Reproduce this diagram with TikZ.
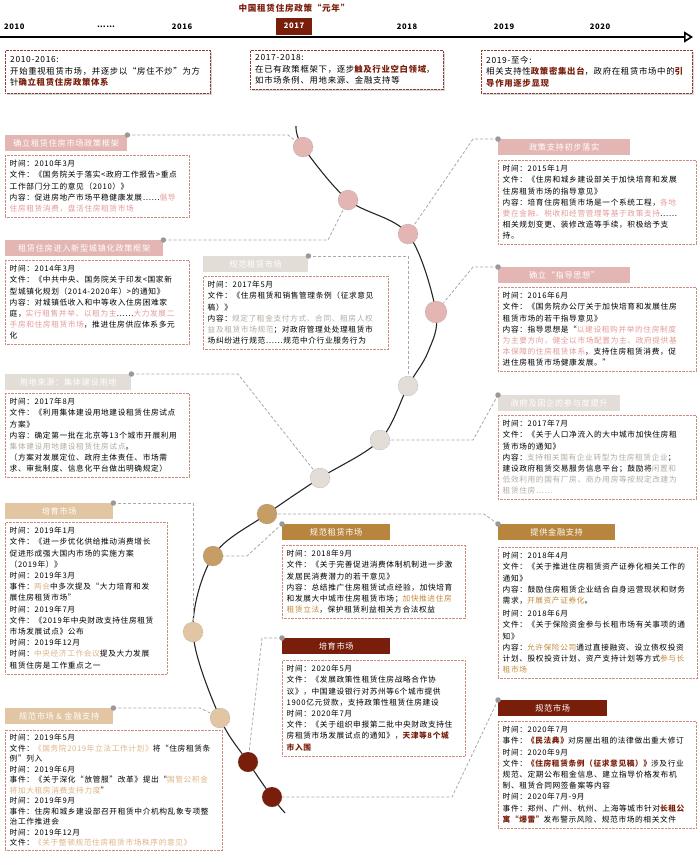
\documentclass[tikz,border=0pt]{standalone}
\usepackage{fontspec}
\setmainfont{Noto Sans CJK SC}[LetterSpace=8]
\usepackage{tikz}
\usetikzlibrary{arrows.meta,positioning,shadows}

\definecolor{wine}{HTML}{7A1E0C}
\definecolor{rosefill}{HTML}{E4B6B3}
\definecolor{rosetext}{HTML}{E29C99}
\definecolor{ashfill}{HTML}{E3DDD7}
\definecolor{ashtext}{HTML}{B3ABA3}
\definecolor{goldfill}{HTML}{B8853F}
\definecolor{goldtext}{HTML}{C38A3C}
\definecolor{sandfill}{HTML}{E2C6A3}
\definecolor{sandtext}{HTML}{DDB386}
\definecolor{dotframe}{HTML}{CE8C80}
\definecolor{linkgrey}{HTML}{A8A8A8}

\newcommand{\hlrose}[1]{\textcolor{rosetext}{#1}}
\newcommand{\hlash}[1]{\textcolor{ashtext}{#1}}
\newcommand{\hlgold}[1]{\textcolor{goldtext}{#1}}
\newcommand{\hlsand}[1]{\textcolor{sandtext}{#1}}
\newcommand{\hlwine}[1]{\textcolor{wine}{\bfseries #1}}

\begin{document}
\begin{tikzpicture}[x=1pt,y=-1pt,
  ttl/.style={text=wine,font=\fontsize{8.6}{10}\selectfont\bfseries},
  yr/.style={font=\fontsize{7.6}{9}\selectfont\bfseries,inner sep=1pt},
  yrbox/.style={fill=wine,text=white,minimum width=36pt,minimum height=17pt,
                inner sep=0pt,font=\fontsize{7.6}{9}\selectfont\bfseries},
  axis/.style={line width=1.6pt,-{Triangle[open,length=9pt,width=11pt]}},
  topbox/.style={rectangle,anchor=north west,draw=wine!85,densely dotted,fill=white,
                 drop shadow={opacity=0.3,shadow xshift=2pt,shadow yshift=-2pt},
                 align=left,inner xsep=5pt,inner ysep=4pt,
                 font=\fontsize{8.4}{11.4}\selectfont},
  hdr/.style={rectangle,anchor=north west,minimum height=16pt,inner sep=0pt,
              text=white,font=\fontsize{8.2}{10}\selectfont},
  body/.style={rectangle,anchor=north west,draw=dotframe,densely dotted,align=left,
               inner xsep=4.5pt,inner ysep=5pt,font=\fontsize{7.7}{11.2}\selectfont},
  knot/.style={circle,minimum size=20pt,inner sep=0pt,draw=black!45,densely dotted},
  pin/.style={circle,fill=black!40,minimum size=5.5pt,inner sep=0pt},
  link/.style={draw=linkgrey,line width=0.8pt,dash pattern=on 3pt off 2pt},
  curve/.style={line width=1.1pt,black!85}
]
  \useasboundingbox (0,0) rectangle (700,865);

  % time axis
  \node[ttl] (title) at (294,8) {中国租赁住房政策“元年”};
  \coordinate (axL) at (0,37);
  \coordinate (axR) at (693,37);
  \draw[axis] (axL) -- (axR);
  \node[yr,anchor=west] (y2010) at (3,27) {2010};
  \node[yr] (ygap) at (106,27) {……};
  \node[yr] (y2016) at (182,27) {2016};
  \node[yrbox] (y2017) at (294,26) {2017};
  \node[yr] (y2018) at (407,27) {2018};
  \node[yr] (y2019) at (504,27) {2019};
  \node[yr] (y2020) at (600,27) {2020};

  % three stages
  \node[topbox,text width=195pt,minimum height=43pt] (stage1) at (5,50)
    {2010-2016:\\开始重视租赁市场，并逐步以“房住不炒”为方\\针\hlwine{确立租赁住房政策体系}};
  \node[topbox,text width=183pt,minimum height=39pt] (stage2) at (250,50)
    {2017-2018:\\在已有政策框架下，逐步\hlwine{触及行业空白领域}，\\如市场条例、用地来源、金融支持等};
  \node[topbox,text width=201pt,minimum height=43pt] (stage3) at (481,50)
    {2019-至今:\\相关支持性\hlwine{政策密集出台}，政府在租赁市场中的\hlwine{引}\\\hlwine{导作用逐步显现}};

  % S-shaped curve
  \coordinate (q0) at (296,126);
  \coordinate (c1) at (303,147);
  \coordinate (c2) at (348,200);
  \coordinate (c3) at (408,234);
  \coordinate (c4) at (436,312);
  \coordinate (qa) at (428,352);
  \coordinate (g1) at (408,386);
  \coordinate (g2) at (380,440);
  \coordinate (g3) at (320,478);
  \coordinate (o1) at (267,514);
  \coordinate (o2) at (213,556);
  \coordinate (t1) at (193,632);
  \coordinate (t2) at (220,718);
  \coordinate (m1) at (248,762);
  \coordinate (m2) at (272,797);
  \coordinate (qz) at (285,813);
  \draw[curve] plot[smooth,tension=0.55] coordinates
    {(q0) (c1) (c2) (c3) (c4) (qa) (g1) (g2) (g3) (o1) (o2) (t1) (t2) (m1) (m2) (qz)};

  \node[knot,fill=rosefill] (k1) at (c1) {};
  \node[knot,fill=rosefill] (k2) at (c2) {};
  \node[knot,fill=rosefill] (k3) at (c3) {};
  \node[knot,fill=rosefill,minimum size=22pt] (k4) at (c4) {};
  \node[knot,fill=ashfill] (k5) at (g1) {};
  \node[knot,fill=ashfill] (k6) at (g2) {};
  \node[knot,fill=ashfill] (k7) at (g3) {};
  \node[knot,fill=goldfill!80] (k8) at (o1) {};
  \node[knot,fill=goldfill!80] (k9) at (o2) {};
  \node[knot,fill=sandfill] (k10) at (t1) {};
  \node[knot,fill=sandfill] (k11) at (t2) {};
  \node[knot,fill=wine] (k12) at (m1) {};
  \node[knot,fill=wine] (k13) at (m2) {};

  % 2010
  \node[hdr,fill=rosefill,minimum width=122pt] (h1) at (5,135) {确立租赁住房市场政策框架};
  \node[body,text width=175pt] (b1) at (5,155)
    {时间：2010年3月\\文件：《国务院关于落实<政府工作报告>重点\\工作部门分工的意见（2010）》\\
     内容：促进房地产市场平稳健康发展……\hlrose{倡导}\\\hlrose{住房租赁消费，盘活住房租赁市场}};
  % 2014
  \node[hdr,fill=rosefill,minimum width=158pt] (h2) at (5,240) {租赁住房进入新型城镇化政策框架};
  \node[body,text width=175pt] (b2) at (5,260)
    {时间：2014年3月\\文件：《中共中央、国务院关于印发<国家新\\型城镇化规划（2014-2020年）>的通知》\\
     内容：对城镇低收入和中等收入住房困难家\\庭，\hlrose{实行租售并举、以租为主}……\hlrose{大力发展二}\\
     \hlrose{手房和住房租赁市场}，推进住房供应体系多元\\化};
  % 2015
  \node[hdr,fill=rosefill,minimum width=132pt] (h3) at (498,139) {政策支持初步落实};
  \node[body,text width=189pt] (b3) at (498,160)
    {时间：2015年1月\\文件：《住房和城乡建设部关于加快培育和发展\\住房租赁市场的指导意见》\\
     内容：培育住房租赁市场是一个系统工程，\hlrose{各地}\\\hlrose{要在金融、税收和经营管理等基于政策支持}……\\
     相关规划变更、装修改造等手续，积极给予支\\持。};
  % 2016
  \node[hdr,fill=rosefill,minimum width=132pt] (h4) at (498,267) {确立“指导思想”};
  \node[body,text width=189pt] (b4) at (498,287)
    {时间：2016年6月\\文件：《国务院办公厅关于加快培育和发展住房\\租赁市场的若干指导意见》\\
     内容：指导思想是“\hlrose{以建设租购并举的住房制度}\\\hlrose{为主要方向，健全以市场配置为主、政府提供基}\\
     \hlrose{本保障的住房租赁体系}，支持住房租赁消费，促\\进住房租赁市场健康发展。”};
  % 2017
  \node[hdr,fill=ashfill,minimum width=105pt] (h5) at (203,256) {规范租赁市场};
  \node[body,text width=176pt] (b5) at (203,276)
    {时间：2017年5月\\文件：《住房租赁和销售管理条例（征求意见\\稿）》\\
     内容：\hlash{规定了租金支付方式、合同、租房人权}\\\hlash{益及租赁市场规范}；对政府管理处处理租赁市\\
     场纠纷进行规范……规范中介行业服务行为};
  \node[hdr,fill=ashfill,minimum width=122pt] (h6) at (498,395) {政府及国企的参与度提升};
  \node[body,text width=189pt] (b6) at (498,415)
    {时间：2017年7月\\文件：《关于人口净流入的大中城市加快住房租\\赁市场的通知》\\
     内容：\hlash{支持相关国有企业转型为住房租赁企业}；\\建设政府租赁交易服务信息平台；鼓励将\hlash{闲置和}\\
     \hlash{低效利用的国有厂房、商办用房等按规定改建为}\\\hlash{租赁住房……}};
  \node[hdr,fill=ashfill,minimum width=126pt] (h7) at (5,374) {用地来源：集体建设用地};
  \node[body,text width=175pt] (b7) at (5,393)
    {时间：2017年8月\\文件：《利用集体建设用地建设租赁住房试点\\方案》\\
     内容：确定第一批在北京等13个城市开展利用\\\hlash{集体建设用地建设租赁住房试点}。\\
     （方案对发展定位、政府主体责任、市场需\\求、审批制度、信息化平台做出明确规定）};
  % 2018
  \node[hdr,fill=goldfill,minimum width=117pt] (h8) at (498,524) {提供金融支持};
  \node[body,text width=190pt] (b8) at (498,547)
    {时间：2018年4月\\文件：《关于推进住房租赁资产证券化相关工作的\\通知》\\
     内容：鼓励住房租赁企业结合自身运营现状和财务\\需求，\hlgold{开展资产证券化}。\\[2pt]
     时间：2018年6月\\文件：《关于保险资金参与长租市场有关事项的通\\知》\\
     内容：\hlgold{允许保险公司}通过直接融资、设立债权投资\\计划、股权投资计划、资产支持计划等方式\hlgold{参与长}\\
     \hlgold{租市场}};
  \node[hdr,fill=goldfill,minimum width=108pt] (h9) at (282,524) {规范租赁市场};
  \node[body,text width=174pt] (b9) at (282,545)
    {时间：2018年9月\\文件：《关于完善促进消费体制机制进一步激\\发居民消费潜力的若干意见》\\
     内容：总结推广住房租赁试点经验，加快培育\\和发展大中城市住房租赁市场；\hlgold{加快推进住房}\\
     \hlgold{租赁立法}，保护租赁利益相关方合法权益};
  % 2019
  \node[hdr,fill=sandfill,minimum width=108pt] (h10) at (5,503) {培育市场};
  \node[body,text width=153pt] (b10) at (5,522)
    {时间：2019年1月\\文件：《进一步优化供给推动消费增长\\促进形成强大国内市场的实施方案\\（2019年）》\\
     时间：2019年3月\\事件：\hlsand{两会}中多次提及“大力培育和发\\展住房租赁市场”\\
     时间：2019年7月\\文件：《2019年中央财政支持住房租赁\\市场发展试点》公布\\
     时间：2019年12月\\时间：\hlsand{中央经济工作会议}提及大力发展\\租赁住房是工作重点之一};
  \node[hdr,fill=sandfill,minimum width=108pt] (h11) at (5,708) {规范市场 \& 金融支持};
  \node[body,text width=208pt,inner ysep=4pt,font=\fontsize{7.7}{10.5}\selectfont] (b11) at (5,730)
    {时间：2019年5月\\文件：\hlsand{《国务院2019年立法工作计划》}将“住房租赁条\\例”列入\\
     时间：2019年6月\\事件：《关于深化“放管服”改革》提出“\hlsand{国管公积金}\\\hlsand{将加大租房消费支持力度}”\\
     时间：2019年9月\\事件：住房和城乡建设部召开租赁中介机构乱象专项整\\治工作推进会\\
     时间：2019年12月\\文件：\hlsand{《关于整顿规范住房租赁市场秩序的意见》}};
  % 2020
  \node[hdr,fill=wine,minimum width=108pt] (h12) at (282,638) {培育市场};
  \node[body,text width=174pt] (b12) at (282,660)
    {时间：2020年5月\\文件：《发展政策性租赁住房战略合作协\\议》，中国建设银行对苏州等6个城市提供\\
     1900亿元贷款，支持政策性租赁住房建设\\时间：2020年7月\\文件：《关于组织申报第二批中央财政支持住\\
     房租赁市场发展试点的通知》，\hlwine{天津等8个城}\\\hlwine{市入围}};
  \node[hdr,fill=wine,minimum width=109pt] (h13) at (498,700) {规范市场};
  \node[body,text width=189pt] (b13) at (498,721)
    {时间：2020年7月\\事件：\hlwine{《民法典》}对房屋出租的法律做出重大修订\\
     时间：2020年9月\\文件：\hlwine{《住房租赁条例（征求意见稿）》}涉及行业\\规范、定期公布租金信息、建立指导价格发布机\\
     制、租赁合同网签备案等内容\\时间：2020年7月-9月\\
     事件：郑州、广州、杭州、上海等城市针对\hlwine{长租公}\\\hlwine{寓“爆雷”}发布警示风险、规范市场的相关文件};

  % dashed leaders from headers to the curve
  \coordinate (j1) at (288,135);
  \coordinate (j2) at (328,240);
  \coordinate (j3) at (473,139);
  \coordinate (j4) at (473,267);
  \coordinate (j5) at (408,256);
  \coordinate (j6) at (473,440);
  \coordinate (j7) at (238,374);
  \coordinate (j8) at (484,514);
  \coordinate (j9) at (247,556);
  \coordinate (j10) at (193,503);
  \coordinate (j11) at (200,708);
  \coordinate (j12) at (262,638);
  \coordinate (j13) at (452,797);
  \draw[link] (h1.north east) -- (j1) -- (k1);
  \draw[link] (h2.north east) -- (j2) -- (k2);
  \draw[link] (h3.north west) -- (j3) -- (k3);
  \draw[link] (h4.north west) -- (j4) -- (k4);
  \draw[link] (h5.north east) -- (j5) -- (k5);
  \draw[link] (h6.north west) -- (j6) -- (k6);
  \draw[link] (h7.north east) -- (j7) -- (k7);
  \draw[link] (h8.north west) -- (j8) -- (k8);
  \draw[link] (h9.north west) -- (j9) -- (k9);
  \draw[link] (h10.north east) -- (j10) -- (k10);
  \draw[link] (h11.north east) -- (j11) -- (k11);
  \draw[link] (h12.north west) -- (j12) -- (k12);
  \draw[link] (h13.north west) -- (j13) -- (k13);
  \foreach \h/\a in {h1/north east,h2/north east,h3/north west,h4/north west,
                     h5/north east,h6/north west,h7/north east,h8/north west,
                     h9/north west,h10/north east,h11/north east,h12/north west,h13/north west}
    \node[pin] (p-\h) at (\h.\a) {};
\end{tikzpicture}
\end{document}
